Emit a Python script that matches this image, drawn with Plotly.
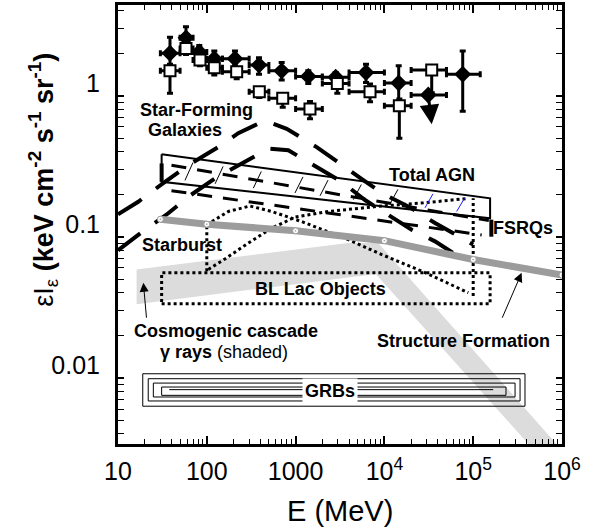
import numpy as np
import plotly.graph_objects as go

# ---------------- data ----------------
# filled diamonds (EGRET-type points)
egret_E = [38.5, 58.3, 82.3, 121.5, 207.7, 387, 697, 1390, 2829, 6205, 14490, 31200, 76200]
egret_Elo = [30, 50, 70, 100, 150, 300, 500, 1000, 2000, 4000, 10000, 20000, 50000]
egret_Ehi = [50, 70, 100, 150, 300, 500, 1000, 2000, 4000, 10000, 20000, 50000, 120000]
egret_y = [2.0, 2.57, 2.04, 1.83, 1.83, 1.65, 1.50, 1.37, 1.35, 1.46, 1.23, 1.01, 1.42]
egret_yhi = [2.60, 3.08, 2.27, 2.07, 2.07, 1.86, 1.72, 1.50, 1.46, 1.67, 1.63, 1.01, 2.07]
egret_ylo = [1.54, 2.31, 1.86, 1.63, 1.63, 1.42, 1.29, 1.22, 1.18, 1.24, 0.897, 1.01, 0.775]

# open squares
strong_E = [38.5, 58.3, 83.8, 121.5, 217, 390, 716, 1452, 2949, 6887, 14730, 34100]
strong_Elo = [30, 50, 70, 100, 150, 300, 500, 1000, 2000, 4000, 10000, 20000]
strong_Ehi = [50, 70, 100, 150, 300, 500, 1000, 2000, 4000, 10000, 20000, 50000]
strong_y = [1.50, 2.16, 1.79, 1.58, 1.48, 1.067, 0.957, 0.805, 1.22, 1.067, 0.85, 1.52]
strong_yhi = [1.67, 2.31, 1.91, 1.72, 1.58, 1.14, 1.03, 0.91, 1.35, 1.21, 0.946, 1.58]
strong_ylo = [1.04, 1.96, 1.63, 1.40, 1.32, 0.97, 0.827, 0.685, 1.04, 0.907, 0.50, 1.05]

# upper limit arrow (E, y) tail -> head
ul_E = [31200, 34100]
ul_y = [1.01, 0.628]

# star-forming galaxies (upper hump) and starburst (lower hump)
sfg_E = [10, 16.9, 33.8, 61.9, 134.8, 226, 452, 794, 1728, 2779, 5787, 10160, 20280, 37150, 77300, 100000]
sfg_y = [0.144, 0.177, 0.245, 0.321, 0.432, 0.542, 0.667, 0.582, 0.432, 0.348, 0.252, 0.198, 0.159, 0.125, 0.0953, 0.088]
sb_E = [10, 16.9, 36.8, 61.9, 123.7, 226, 493, 828, 1728, 3304, 6046, 10160, 20280, 37150, 77300]
sb_y = [0.080, 0.103, 0.1466, 0.192, 0.259, 0.321, 0.421, 0.41, 0.313, 0.245, 0.182, 0.1466, 0.112, 0.0927, 0.0689]

# Total AGN box
agn_E = [31, 155000]
agn_top = [0.384, 0.187]
agn_bot = [0.245, 0.135]
agn_hatch_E = [56.8, 124, 334, 984, 1883, 4467, 11560, 28640, 65100]

# FSRQs
fsrq_up_E = [40, 150000]
fsrq_up_y = [0.321, 0.130]
fsrq_lo_E = [40, 124600]
fsrq_lo_y = [0.212, 0.103]
fsrq_bar_E = [160000, 160000]
fsrq_bar_y = [0.1, 0.132]

# BL Lac objects
bll_box_E = [31, 155000]
bll_box_y = [0.0335, 0.0554]
bll_a_E = [104, 160, 293, 538, 984, 2335, 9325, 28640, 88100]
bll_a_y = [0.0586, 0.0695, 0.0901, 0.115, 0.1375, 0.151, 0.165, 0.174, 0.187]
bll_b_E = [100, 175, 306, 538, 1172, 3922, 9325, 26300, 88100]
bll_b_y = [0.1215, 0.151, 0.165, 0.151, 0.128, 0.0953, 0.0747, 0.057, 0.0401]
bll_vl_E = [100, 100]
bll_vl_y = [0.057, 0.1215]
bll_vr_E = [100000, 100000]
bll_vr_y = [0.038, 0.187]

# structure formation
sform_E = [30, 100, 1000, 1e4, 1e5, 1e6]
sform_y = [0.133, 0.1227, 0.110, 0.0937, 0.0689, 0.0534]

# cosmogenic cascade (shaded region outline)
casc_E = [16.2, 3922, 8538, 1.57e6, 7.67e5, 7980, 16.2]
casc_y = [0.0586, 0.0901, 0.0901, 0.00222, 0.00222, 0.0544, 0.0332]

# GRB nested rectangles: (Emin, Emax, ymin, ymax)
grb_Emin = [19, 21.9, 25, 31]
grb_Emax = [3.83e5, 3.37e5, 2.96e5, 2.34e5]
grb_ymin = [0.00628, 0.00684, 0.0073, 0.0075]
grb_ymax = [0.01067, 0.00984, 0.00916, 0.00859]
grb_line_E = [37.8, 1.68e5]
grb_line_y = [0.00823, 0.00823]

x_tickvals = [10, 100, 1000, 1e4, 1e5, 1e6]
x_ticktext = ["10", "100", "1000", "10<sup>4</sup>", "10<sup>5</sup>", "10<sup>6</sup>"]
y_tickvals = [0.01, 0.1, 1]
y_ticktext = ["0.01", "0.1", "1"]

FONT = "Arial, Liberation Sans, sans-serif"

fig = go.Figure()


def line(x, y, color="black", width=2, dash="solid"):
    fig.add_trace(go.Scatter(x=x, y=y, mode="lines", line=dict(color=color, width=width, dash=dash),
                             showlegend=False, hoverinfo="skip"))


# cascade band
fig.add_trace(go.Scatter(x=casc_E, y=casc_y, mode="lines", fill="toself", fillcolor="#dcdcdc",
                         line=dict(width=0, color="#dcdcdc"), showlegend=False, hoverinfo="skip"))

# GRB rectangles
for e0, e1, y0, y1 in zip(grb_Emin, grb_Emax, grb_ymin, grb_ymax):
    line([e0, e1, e1, e0, e0], [y0, y0, y1, y1, y0], width=1)
line(grb_line_E, grb_line_y, width=1)

# BL Lac
bdot = "3px,3px"
line([bll_box_E[0], bll_box_E[1], bll_box_E[1], bll_box_E[0], bll_box_E[0]],
     [bll_box_y[0], bll_box_y[0], bll_box_y[1], bll_box_y[1], bll_box_y[0]], width=3, dash=bdot)
line(bll_a_E, bll_a_y, width=3, dash=bdot)
line(bll_b_E, bll_b_y, width=3, dash=bdot)
line(bll_vl_E, bll_vl_y, width=3, dash=bdot)
line(bll_vr_E, bll_vr_y, width=3, dash=bdot)

# star forming
line(sfg_E, sfg_y, width=4, dash="28px,18px")
line(sb_E, sb_y, width=4, dash="28px,18px")

# structure formation
fig.add_trace(go.Scatter(x=sform_E, y=sform_y, mode="lines+markers",
                         line=dict(color="#9c9c9c", width=7),
                         marker=dict(symbol="circle-dot", size=6, color="white",
                                     line=dict(color="#9c9c9c", width=1)),
                         showlegend=False, hoverinfo="skip"))

# FSRQs
line(fsrq_up_E, fsrq_up_y, width=3, dash="15px,11px")
line(fsrq_lo_E, fsrq_lo_y, width=3, dash="15px,11px")
line(fsrq_bar_E, fsrq_bar_y, width=4)

# Total AGN box
line([agn_E[0], agn_E[1], agn_E[1], agn_E[0], agn_E[0]],
     [agn_top[0], agn_top[1], agn_bot[1], agn_bot[0], agn_top[0]], width=2)
line([agn_E[0], agn_E[0]], [agn_bot[0], agn_bot[0] * 1.35], width=4)
lE = np.log10(agn_E)
for i, e in enumerate(agn_hatch_E):
    le = np.log10(e)
    le2 = le + 0.09
    t1 = np.interp(le, lE, np.log10(agn_top))
    b1 = np.interp(le, lE, np.log10(agn_bot))
    t2 = np.interp(le2, lE, np.log10(agn_top))
    b2 = np.interp(le2, lE, np.log10(agn_bot))
    ya = 10 ** (b1 + 0.15 * (t1 - b1))
    yb = 10 ** (b2 + 0.85 * (t2 - b2))
    col = "#1a1aff" if i >= len(agn_hatch_E) - 2 else "black"
    line([e, 10 ** le2], [ya, yb], width=1, color=col)

# data points
egret_ex = dict(type="data", symmetric=False,
                array=[h - e for h, e in zip(egret_Ehi, egret_E)],
                arrayminus=[e - l for l, e in zip(egret_Elo, egret_E)],
                color="black", thickness=3, width=3)
egret_ey = dict(type="data", symmetric=False,
                array=[h - v for h, v in zip(egret_yhi, egret_y)],
                arrayminus=[v - l for l, v in zip(egret_ylo, egret_y)],
                color="black", thickness=3, width=3)
fig.add_trace(go.Scatter(x=egret_E, y=egret_y, mode="markers",
                         marker=dict(symbol="diamond", size=13, color="black"),
                         error_x=egret_ex, error_y=egret_ey, showlegend=False))
strong_ex = dict(type="data", symmetric=False,
                 array=[h - e for h, e in zip(strong_Ehi, strong_E)],
                 arrayminus=[e - l for l, e in zip(strong_Elo, strong_E)],
                 color="black", thickness=3, width=3)
strong_ey = dict(type="data", symmetric=False,
                 array=[h - v for h, v in zip(strong_yhi, strong_y)],
                 arrayminus=[v - l for l, v in zip(strong_ylo, strong_y)],
                 color="black", thickness=3, width=3)
fig.add_trace(go.Scatter(x=strong_E, y=strong_y, mode="markers",
                         marker=dict(symbol="square", size=11, color="white",
                                     line=dict(color="black", width=2)),
                         error_x=strong_ex, error_y=strong_ey, showlegend=False))

L = np.log10
ann = []
# upper-limit arrow
ann.append(dict(x=L(ul_E[1]), y=L(ul_y[1]), ax=L(ul_E[0]), ay=L(ul_y[0]), xref="x", yref="y",
                axref="x", ayref="y", showarrow=True, arrowhead=2, arrowsize=1.3, arrowwidth=3,
                arrowcolor="black", text=""))
# pointer arrows
ann.append(dict(x=L(19.3), y=L(0.0471), ax=L(21), ay=L(0.026), xref="x", yref="y",
                axref="x", ayref="y", showarrow=True, arrowhead=2, arrowsize=1.8, arrowwidth=1,
                arrowcolor="black", text=""))
ann.append(dict(x=L(3.51e5), y=L(0.0554), ax=L(2.09e5), ay=L(0.026), xref="x", yref="y",
                axref="x", ayref="y", showarrow=True, arrowhead=2, arrowsize=1.8, arrowwidth=1,
                arrowcolor="black", text=""))

labels = [
    ("<b>Star-Forming</b>", 76.9, 0.788, None),
    ("<b>Galaxies</b>", 56.8, 0.570, None),
    ("<b>Total AGN</b>", 34800, 0.272, None),
    ("<b>FSRQs</b>", 3.64e5, 0.115, None),
    ("<b>Starburst</b>", 52.6, 0.0868, None),
    ("<b>BL Lac Objects</b>", 1883, 0.0429, None),
    ("<b>Cosmogenic cascade</b>", 164, 0.0214, None),
    ("<b>γ rays</b> (shaded)", 156, 0.0153, None),
    ("<b>Structure Formation</b>", 78700, 0.01816, None),
    ("<b>GRBs</b>", 2438, 0.00805, "white"),
]
for t, xe, yv, bg in labels:
    d = dict(x=L(xe), y=L(yv), xref="x", yref="y", text=t, showarrow=False,
             font=dict(family=FONT, size=18, color="black"), xanchor="center", yanchor="middle")
    if bg:
        d.update(bgcolor=bg, borderpad=2)
    ann.append(d)

# axis titles
ann.append(dict(x=-0.169, y=0.602, xref="paper", yref="paper", textangle=-90,
                text="εI<sub>ε</sub> <b>(keV cm<sup>-2</sup> s<sup>-1</sup> sr<sup>-1</sup>)</b>",
                showarrow=False, font=dict(family=FONT, size=27, color="black"),
                xanchor="center", yanchor="middle"))
ann.append(dict(x=0.5, y=-0.1516, xref="paper", yref="paper", text="E (MeV)", showarrow=False,
                font=dict(family=FONT, size=29, color="black"), xanchor="center", yanchor="middle"))

x_minor = [k * 10 ** d for d in range(1, 6) for k in range(2, 10)]
y_minor = [k * 10.0 ** d for d in range(-3, 1) for k in range(2, 10)]

fig.update_layout(
    width=597, height=529,
    margin=dict(l=118, r=35, t=2, b=85),
    paper_bgcolor="white", plot_bgcolor="white",
    showlegend=False,
    annotations=ann,
    xaxis=dict(type="log", range=[1, 6], showgrid=False, zeroline=False,
               showline=True, linewidth=3, linecolor="black", mirror="allticks",
               ticks="inside", ticklen=8, tickwidth=1.5, tickcolor="black",
               tickvals=x_tickvals, ticktext=x_ticktext, ticklabelstandoff=3,
               tickfont=dict(family=FONT, size=25, color="black"),
               minor=dict(ticks="inside", ticklen=5, tickwidth=1, tickcolor="black",
                          tickmode="array", tickvals=x_minor, showgrid=False)),
    yaxis=dict(type="log", range=[-2.47, 0.643], showgrid=False, zeroline=False,
               showline=True, linewidth=3, linecolor="black", mirror="allticks",
               ticks="inside", ticklen=6, tickwidth=1.5, tickcolor="black",
               tickvals=y_tickvals, ticktext=y_ticktext, ticklabelstandoff=10,
               ticklabelshift=-12,
               tickfont=dict(family=FONT, size=25, color="black"),
               minor=dict(ticks="inside", ticklen=6, tickwidth=1, tickcolor="black",
                          tickmode="array", tickvals=y_minor, showgrid=False)),
)

fig.write_html("out.html")
